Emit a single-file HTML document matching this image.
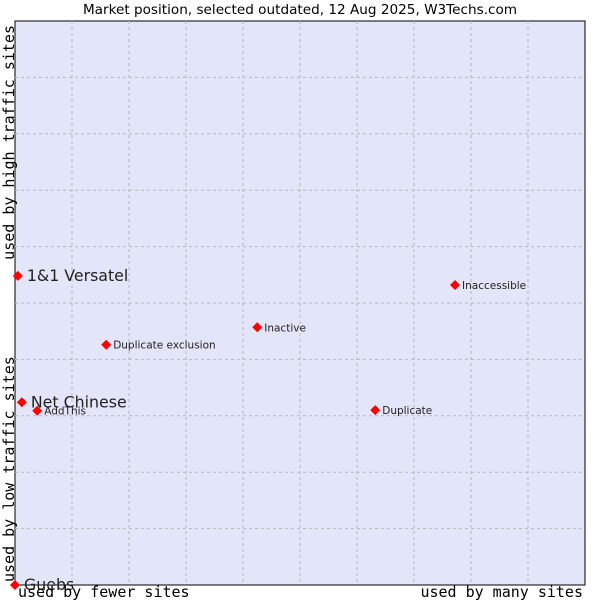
<!DOCTYPE html>
<html><head><meta charset="utf-8"><style>
body{margin:0;background:#fff;width:600px;height:600px;overflow:hidden}
svg{display:block}
</style></head><body>
<svg id="chart" width="600" height="600" xmlns="http://www.w3.org/2000/svg">
<text x="300" y="14" text-anchor="middle" font-family="DejaVu Sans, sans-serif" font-size="13.6">Market position, selected outdated, 12 Aug 2025, W3Techs.com</text>
<rect x="15" y="21" width="570" height="564" fill="#e3e5f8" stroke="#000" stroke-width="1"/>
<g id="grid"></g>
<g id="points"></g>
<text x="18" y="597" font-family="DejaVu Sans Mono, monospace" font-size="15">used by fewer sites</text>
<text x="583" y="597" text-anchor="end" font-family="DejaVu Sans Mono, monospace" font-size="15">used by many sites</text>
<text transform="translate(14,25) rotate(-90)" text-anchor="end" font-family="DejaVu Sans Mono, monospace" font-size="15">used by high traffic sites</text>
<text transform="translate(14,582) rotate(-90)" font-family="DejaVu Sans Mono, monospace" font-size="15">used by low traffic sites</text>
</svg>
<script>
const names = ["Guebs","Net Chinese","AddThis","1&1 Versatel","Duplicate exclusion","Inactive","Inaccessible","Duplicate"];
const xValues = [0,1.2,3.9,0.5,16.0,42.5,77.2,63.2];
const yValues = [0,32.4,30.9,54.8,42.6,45.7,53.2,31.0];
const bigLabel = [true,true,false,true,false,false,false,false];
const L=15,T=21,W=570,H=564;
const xs=v=>L+v/100*W, ys=v=>T+H-v/100*H;
const NS="http://www.w3.org/2000/svg";
const g=document.getElementById('grid');
for(let i=1;i<10;i++){
  const vx=document.createElementNS(NS,'line');
  
  
  vx.setAttribute('x1',xs(i*10));vx.setAttribute('x2',xs(i*10));vx.setAttribute('y1',T);vx.setAttribute('y2',T+H);
  vx.setAttribute('stroke','#b8b8b8');vx.setAttribute('stroke-dasharray','3,3');g.appendChild(vx);
  const hy=document.createElementNS(NS,'line');
  
  
  hy.setAttribute('y1',ys(i*10));hy.setAttribute('y2',ys(i*10));hy.setAttribute('x1',L);hy.setAttribute('x2',L+W);
  hy.setAttribute('stroke','#b8b8b8');hy.setAttribute('stroke-dasharray','3,3');g.appendChild(hy);
}
const p=document.getElementById('points');
names.forEach((n,i)=>{
  const x=xs(xValues[i]),y=ys(yValues[i]);
  const d=document.createElementNS(NS,'path');
  
  
  d.setAttribute('d',`M${x} ${y-5}L${x+5} ${y}L${x} ${y+5}L${x-5} ${y}Z`);
  d.setAttribute('fill','#ff0000');p.appendChild(d);
  const t=document.createElementNS(NS,'text');
  
  
  t.setAttribute('x',x+(bigLabel[i]?9:7));t.setAttribute('y',y+(bigLabel[i]?5:4));
  t.setAttribute('font-family','DejaVu Sans, sans-serif');
  t.setAttribute('font-size',bigLabel[i]?'15.8':'10.5');
  t.setAttribute('fill','#222');
  t.textContent=n;p.appendChild(t);
});
</script>
</body></html>
